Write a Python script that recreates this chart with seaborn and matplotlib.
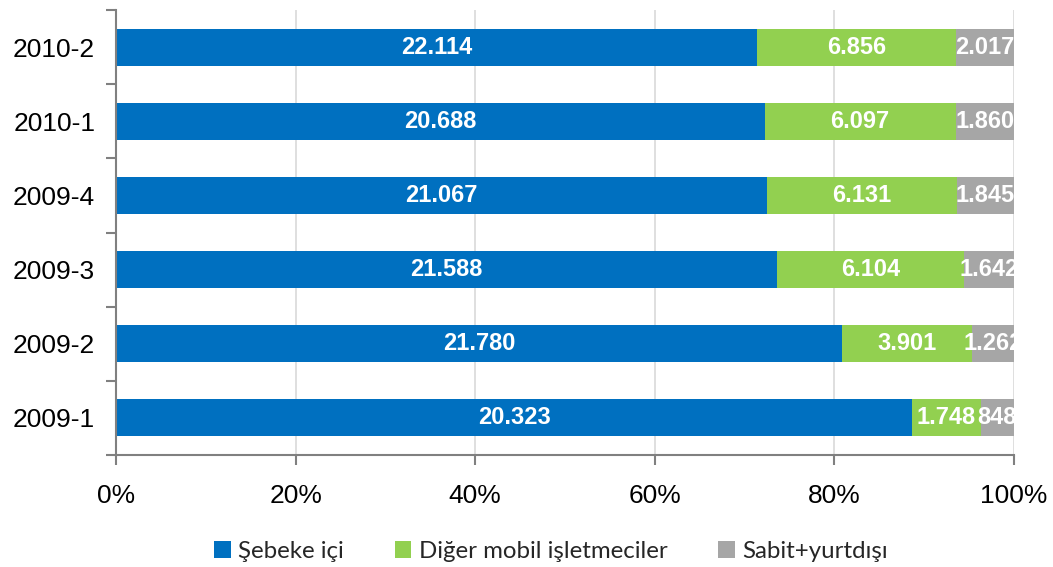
import matplotlib
matplotlib.use("Agg")
import matplotlib.pyplot as plt
import seaborn as sns
import pandas as pd
import numpy as np
from matplotlib.ticker import FixedLocator, PercentFormatter
from matplotlib.patches import Patch

# Quarterly call minutes by destination (thousands)
periods = ["2010-2", "2010-1", "2009-4", "2009-3", "2009-2", "2009-1"]
sebeke_ici = [22114, 20688, 21067, 21588, 21780, 20323]
diger_mobil = [6856, 6097, 6131, 6104, 3901, 1748]
sabit_yurtdisi = [2017, 1860, 1845, 1642, 1262, 848]
series_names = ["Şebeke içi", "Diğer mobil işletmeciler", "Sabit+yurtdışı"]
colors = ["#0070C0", "#92D050", "#A6A6A6"]

sns.set_theme(style="white")
plt.rcParams["font.family"] = ["Liberation Sans", "DejaVu Sans"]

df = pd.DataFrame({
    "period": periods,
    "a": sebeke_ici,
    "b": diger_mobil,
    "c": sabit_yurtdisi,
})
total = df["a"] + df["b"] + df["c"]
df["pa"] = df["a"] / total * 100
df["pb"] = df["b"] / total * 100
df["pc"] = df["c"] / total * 100
df["cum1"] = df["pa"]
df["cum2"] = df["pa"] + df["pb"]
df["cum3"] = df["cum2"] + df["pc"]

fig = plt.figure(figsize=(10.53, 5.67), dpi=100)
ax = fig.add_axes([116 / 1053, 1 - 455 / 567, (1014 - 116) / 1053, 445 / 567])

# stacked bars drawn as overlapping cumulative layers
for col, color in zip(["cum3", "cum2", "cum1"], colors[::-1]):
    sns.barplot(data=df, x=col, y="period", order=periods, color=color,
                saturation=1, width=0.5, linewidth=0, ax=ax, zorder=2)

ax.set_xlim(0, 100)
ax.set_ylim(5.5, -0.5)
ax.set_xlabel("")
ax.set_ylabel("")

# segment labels
def fmt(v):
    return f"{v:,}".replace(",", ".")

for i, row in df.iterrows():
    starts = [0, row["cum1"], row["cum2"]]
    widths = [row["pa"], row["pb"], row["pc"]]
    vals = [row["a"], row["b"], row["c"]]
    for s, w, v in zip(starts, widths, vals):
        ax.text(s + w / 2, i, fmt(v), ha="center", va="center",
                color="white", fontsize=17, fontweight="bold", zorder=5,
                clip_on=False)

# axes styling
ax.xaxis.set_major_locator(FixedLocator([0, 20, 40, 60, 80, 100]))
ax.xaxis.set_major_formatter(PercentFormatter(decimals=0))
ax.grid(axis="x", color="#D9D9D9", linewidth=1.2, zorder=0)
ax.set_axisbelow(True)
ax.tick_params(axis="x", which="major", length=7, width=1.5, color="#808080",
               direction="out", labelsize=19, pad=14, bottom=True)
ax.tick_params(axis="y", which="major", length=0, labelsize=19, pad=15)
ax.yaxis.set_minor_locator(FixedLocator(np.arange(-0.5, 6, 1)))
ax.tick_params(axis="y", which="minor", length=7, width=1.5, color="#808080",
               direction="out", left=True)
for side in ["top", "right"]:
    ax.spines[side].set_visible(False)
for side in ["left", "bottom"]:
    ax.spines[side].set_color("#808080")
    ax.spines[side].set_linewidth(1.5)
for lbl in ax.get_yticklabels() + ax.get_xticklabels():
    lbl.set_color("black")

handles = [Patch(facecolor=c, edgecolor="none") for c in colors]
fig.legend(handles, series_names, loc="center", bbox_to_anchor=(551 / 1053, 1 - 551 / 567),
           ncol=3, frameon=False, prop={"family": ["Lato", "DejaVu Sans"], "size": 17.3},
           handlelength=0.7, handleheight=0.7, handletextpad=0.3, columnspacing=2.1)

fig.savefig("out.png", dpi=100)
